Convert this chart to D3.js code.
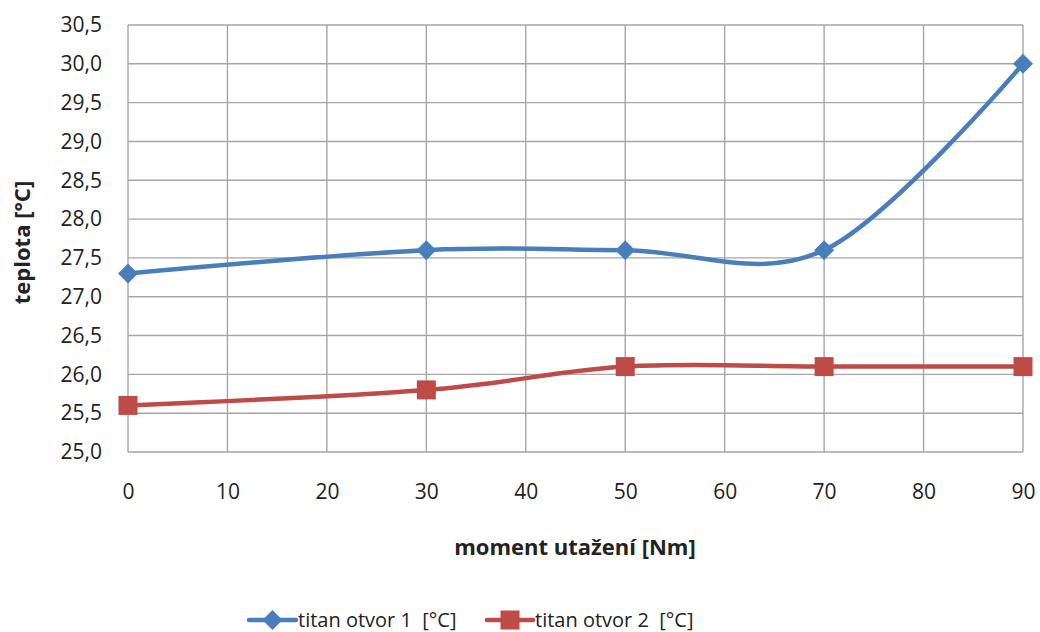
<!DOCTYPE html>
<html>
<head>
<meta charset="utf-8">
<script src="https://cdn.jsdelivr.net/npm/d3@7"></script>
<style>
  html, body { margin: 0; padding: 0; background: #fff; }
  svg { display: block; font-family: "Open Sans", "Noto Sans", sans-serif; }
</style>
</head>
<body>
<svg id="chart" width="1040" height="632"></svg>
<script>
// Torque levels [Nm] and measured temperatures [°C]
const moment = [0, 30, 50, 70, 90];
const otvor1 = [27.3, 27.6, 27.6, 27.6, 30.0];
const otvor2 = [25.6, 25.8, 26.1, 26.1, 26.1];
const seriesNames = ["titan otvor 1  [°C]", "titan otvor 2  [°C]"];
const xTicks = [0, 10, 20, 30, 40, 50, 60, 70, 80, 90];
const yTicks = [25.0, 25.5, 26.0, 26.5, 27.0, 27.5, 28.0, 28.5, 29.0, 29.5, 30.0, 30.5];
const xTitle = "moment utažení [Nm]";
const yTitle = "teplota [°C]";

const colors = ["#4a7ebb", "#be4b48"];
const gridColor = "#a6a6a6";
const textColor = "#222";

const svg = d3.select("#chart");
const plot = { left: 128, right: 1023, top: 25, bottom: 452 };

const x = d3.scaleLinear().domain([0, 90]).range([plot.left, plot.right]);
const y = d3.scaleLinear().domain([25, 30.5]).range([plot.bottom, plot.top]);

const fmt = d => d3.format(".1f")(d).replace(".", ",");

// Grid lines
const grid = svg.append("g");
grid.selectAll("line.h").data(yTicks).join("line")
  .attr("x1", plot.left).attr("x2", plot.right)
  .attr("y1", d => y(d)).attr("y2", d => y(d))
  .attr("stroke", gridColor).attr("stroke-width", 1.4);
grid.selectAll("line.v").data(xTicks).join("line")
  .attr("y1", plot.top).attr("y2", plot.bottom)
  .attr("x1", d => x(d)).attr("x2", d => x(d))
  .attr("stroke", gridColor).attr("stroke-width", 1.4);

// Y axis labels
const yAxis = svg.append("g")
  .attr("transform", `translate(${plot.left},0)`)
  .call(d3.axisLeft(y).tickValues(yTicks).tickFormat(fmt).tickSize(0).tickPadding(26));
yAxis.select(".domain").remove();
yAxis.selectAll("text").attr("font-size", 21).attr("fill", textColor)
  .attr("font-family", "'Open Sans', 'Noto Sans', sans-serif");

// X axis labels
const xAxis = svg.append("g")
  .attr("transform", `translate(0,${plot.bottom})`)
  .call(d3.axisBottom(x).tickValues(xTicks).tickFormat(d3.format("d")).tickSize(0).tickPadding(32));
xAxis.select(".domain").remove();
xAxis.selectAll("text").attr("font-size", 21).attr("fill", textColor)
  .attr("font-family", "'Open Sans', 'Noto Sans', sans-serif");

// Axis titles
svg.append("text")
  .attr("x", 575).attr("y", 555)
  .attr("text-anchor", "middle").attr("font-weight", "bold")
  .attr("font-size", 22).attr("fill", textColor).text(xTitle);
svg.append("text")
  .attr("transform", `translate(30,${(plot.top + plot.bottom) / 2 + 4}) rotate(-90)`)
  .attr("text-anchor", "middle").attr("font-weight", "bold")
  .attr("font-size", 22).attr("fill", textColor).text(yTitle);

// Smoothed series lines
const line = d3.line()
  .x(d => x(d[0])).y(d => y(d[1]))
  .curve(d3.curveCardinal.tension(0));

const series = [otvor1, otvor2].map(vals => moment.map((m, i) => [m, vals[i]]));

series.forEach((pts, i) => {
  svg.append("path").datum(pts)
    .attr("d", line).attr("fill", "none")
    .attr("stroke", colors[i]).attr("stroke-width", 4.5)
    .attr("stroke-linejoin", "round").attr("stroke-linecap", "round");
});

// Markers: diamond for series 1, square for series 2
function drawMarker(g, i, cx, cy) {
  if (i === 0) {
    g.append("path")
      .attr("d", "M0,-10L10,0L0,10L-10,0Z")
      .attr("transform", `translate(${cx},${cy})`)
      .attr("fill", colors[0]);
  } else {
    g.append("rect")
      .attr("x", cx - 9.5).attr("y", cy - 9.5)
      .attr("width", 19).attr("height", 19)
      .attr("fill", colors[1]);
  }
}
const markers = svg.append("g");
series.forEach((pts, i) => {
  pts.forEach(p => drawMarker(markers, i, x(p[0]), y(p[1])));
});

// Legend
const legend = svg.append("g");
const legendItems = [
  { x0: 249, x1: 296, tx: 298 },
  { x0: 487, x1: 533, tx: 535 }
];
legendItems.forEach((it, i) => {
  const ly = 620;
  legend.append("line")
    .attr("x1", it.x0).attr("x2", it.x1).attr("y1", ly).attr("y2", ly)
    .attr("stroke", colors[i]).attr("stroke-width", 4.5).attr("stroke-linecap", "round");
  drawMarker(legend, i, (it.x0 + it.x1) / 2, ly);
  legend.append("text")
    .attr("x", it.tx).attr("y", ly).attr("dy", "0.35em")
    .attr("font-size", 20).attr("fill", textColor)
    .style("white-space", "pre").attr("xml:space", "preserve")
    .text(seriesNames[i]);
});
</script>
</body>
</html>
